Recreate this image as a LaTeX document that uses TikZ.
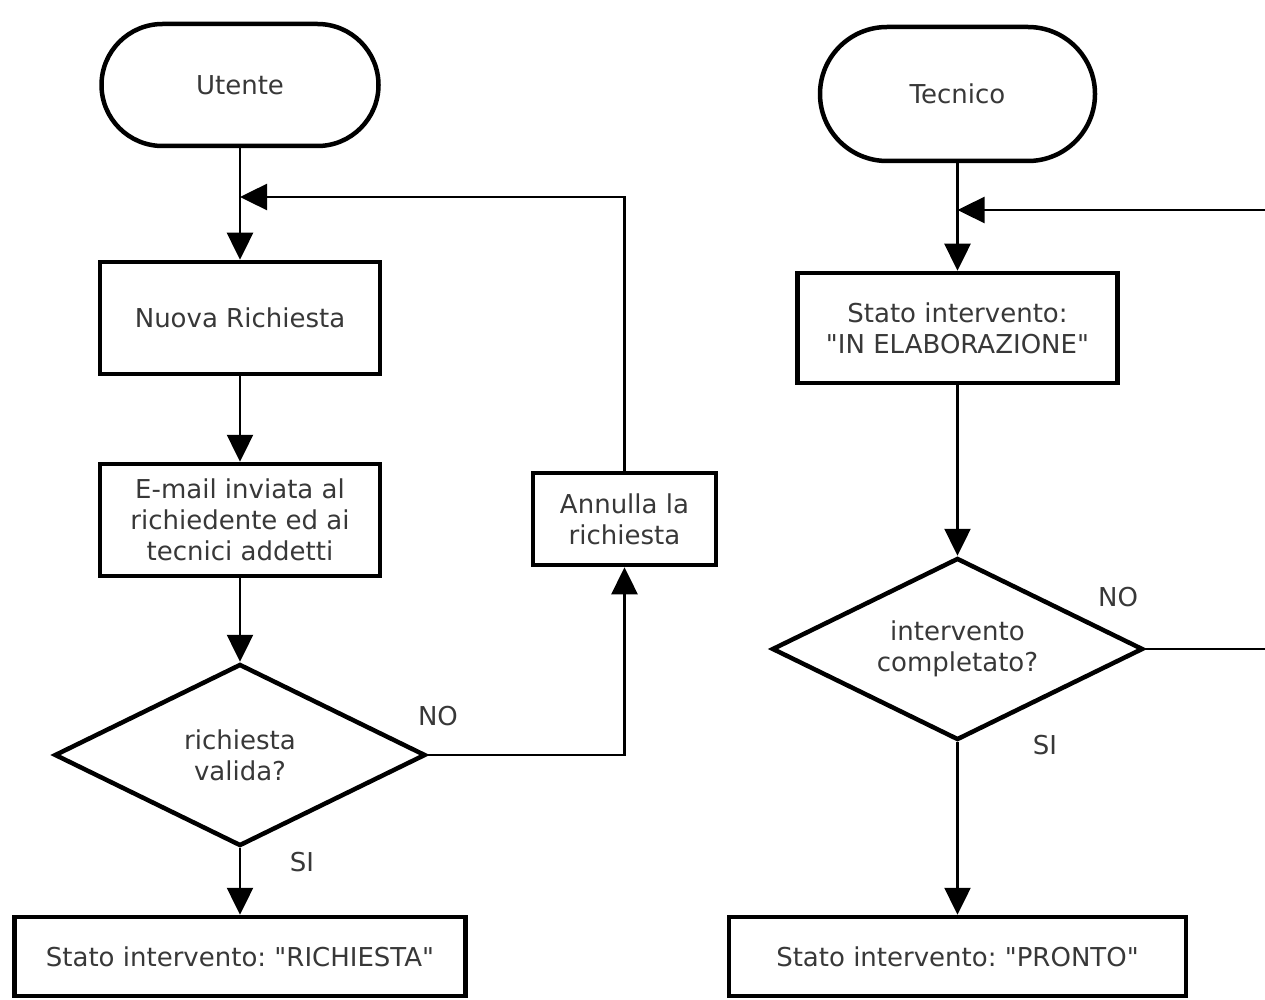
\documentclass[tikz,border=0pt]{standalone}
\usepackage{fontspec}
\newfontfamily\dejavu{DejaVu Sans}
\usetikzlibrary{shapes.geometric,arrows.meta}
\newcommand\dq{"}
\frenchspacing
\begin{document}
\begin{tikzpicture}[x=1pt,y=-1pt,
  every node/.style={font=\dejavu\fontsize{26}{31}\selectfont\frenchspacing, text=black!78},
  term/.style={draw=black, line width=4.5pt, rectangle, inner sep=0pt, align=center},
  proc/.style={draw=black, line width=4.5pt, rectangle, inner sep=0pt, align=center},
  dec/.style={draw=black, line width=4.5pt, diamond, aspect=2.03, inner sep=0pt, align=center},
  conn/.style={line width=2.5pt, draw=black},
  arr/.style={conn, -{Triangle[length=27pt,width=26pt]}},
  lbl/.style={inner sep=0pt}
]
\useasboundingbox (0,0) rectangle (1265,1000);
% ---- left column ----
\node[term, minimum width=277pt, minimum height=122pt, rounded corners=61pt] (ut) at (240,85) {Utente};
\node[proc, minimum width=280pt, minimum height=112pt] (nr) at (240,318) {Nuova Richiesta};
\node[proc, minimum width=280pt, minimum height=112pt] (em) at (240,520) {E-mail inviata al\\richiedente ed ai\\tecnici addetti};
\node[dec, minimum width=371pt, minimum height=182pt] (d1) at (240,755) {richiesta\\valida?};
\node[proc, minimum width=183pt, minimum height=92pt] (an) at (624.5,519) {Annulla la\\richiesta};
\node[proc, minimum width=451pt, minimum height=79pt] (rr) at (240,956.5) {Stato intervento: \dq RICHIESTA\dq};
\coordinate (j1) at (240,197);
\node[lbl] (no1) at (438,716) {NO};
\node[lbl] (si1) at (302,862) {SI};
\draw[arr] (ut.south) -- (nr.north);
\draw[arr] (nr) -- (em);
\draw[arr] (em) -- (d1.north);
\draw[arr] (d1.south) -- (rr.north);
\draw[arr] (d1.east) -| (an.south);
\draw[arr] (an.north) |- (j1);
% ---- right column ----
\node[term, minimum width=275pt, minimum height=134pt, rounded corners=67pt] (te) at (957.5,94) {Tecnico};
\node[proc, minimum width=320pt, minimum height=110pt] (ie) at (957.5,328) {Stato intervento:\\\dq IN ELABORAZIONE\dq};
\node[dec, minimum width=371pt, minimum height=182pt] (d2) at (957.5,649) {intervento\\completato?};
\node[proc, minimum width=457pt, minimum height=79pt] (pr) at (957.5,956.5) {Stato intervento: \dq PRONTO\dq};
\coordinate (j2) at (957.5,210);
\coordinate (e1) at (1265,210);
\coordinate (e2) at (1265,649);
\node[lbl] (no2) at (1118,597) {NO};
\node[lbl] (si2) at (1045,745) {SI};
\draw[arr] (te.south) -- (ie.north);
\draw[arr] (ie) -- (d2.north);
\draw[arr] (d2.south) -- (pr.north);
\draw[conn] (d2.east) -- (e2);
\draw[arr] (e1) -- (j2);
\end{tikzpicture}
\end{document}
